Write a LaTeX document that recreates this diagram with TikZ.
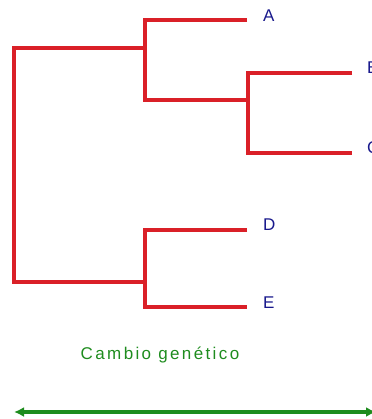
\documentclass[tikz,border=0pt]{standalone}
\usepackage{fontspec}
\setmainfont{Liberation Sans}
\newfontfamily\spacedfont[LetterSpace=14]{Liberation Sans}
\usetikzlibrary{arrows.meta}
\definecolor{treered}{RGB}{218,32,40}
\definecolor{leafblue}{RGB}{24,24,140}
\definecolor{scalegreen}{RGB}{30,140,30}
\tikzset{
  branch/.style={draw=treered, line width=3.2pt, line join=miter},
  leaf/.style={anchor=base west, inner sep=0pt, text=leafblue, font=\fontsize{17}{20}\selectfont},
  scalebar/.style={draw=scalegreen, line width=3.2pt,
    {Latex[length=10pt,width=10pt]}-{Latex[length=10pt,width=10pt]}},
  scalelabel/.style={anchor=base, inner sep=0pt, text=scalegreen, font=\spacedfont\fontsize{17}{20}\selectfont}
}
\begin{document}
\begin{tikzpicture}[x=1pt, y=-1pt]
  \useasboundingbox (0,0) rectangle (371,419);

  % internal nodes of the tree
  \coordinate (rootbar) at (14,165);
  \coordinate (n1) at (145,48);
  \coordinate (n2) at (248,100);
  \coordinate (n3) at (145,282);

  % leaf ends
  \coordinate (Aend) at (247,20);
  \coordinate (Bend) at (352,73);
  \coordinate (Cend) at (352,153);
  \coordinate (Dend) at (247,230);
  \coordinate (Eend) at (247,307);

  % leaf labels
  \node[leaf] (A) at (263,22) {A};
  \node[leaf] (B) at (367,74) {B};
  \node[leaf] (C) at (367,154) {C};
  \node[leaf] (D) at (263,230) {D};
  \node[leaf] (E) at (263,308) {E};

  % branches
  \draw[branch] (n1) -| (rootbar) |- (n3);
  \draw[branch] (Aend) -| (n1) |- (n2);
  \draw[branch] (Bend) -| (n2) |- (Cend);
  \draw[branch] (Dend) -| (n3) |- (Eend);

  % genetic change scale
  \node[scalelabel] (label) at (160,359) {Cambio genético};
  \coordinate (sL) at (14,412);
  \coordinate (sR) at (376,412);
  \draw[scalebar] (sL) -- (sR);
\end{tikzpicture}
\end{document}
